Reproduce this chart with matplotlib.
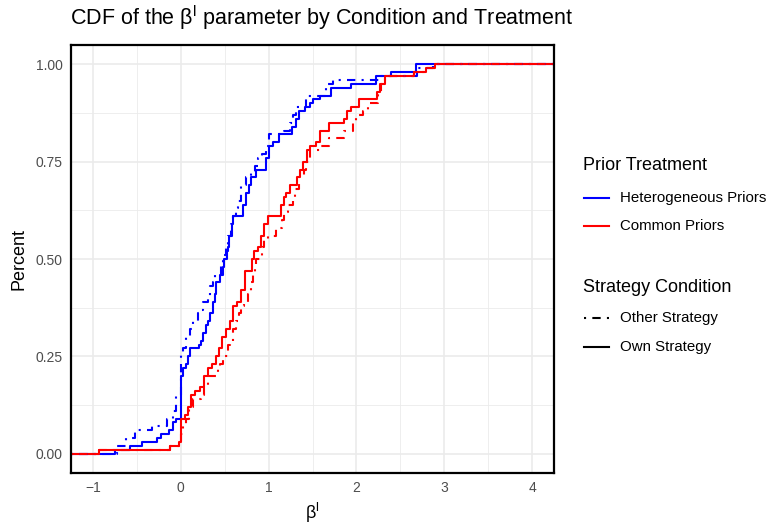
import numpy as np
import matplotlib
matplotlib.use('Agg')
import matplotlib.pyplot as plt
from matplotlib.lines import Line2D

plt.rcParams['font.family'] = ['Liberation Sans', 'DejaVu Sans']
plt.rcParams['mathtext.fontset'] = 'custom'
plt.rcParams['mathtext.rm'] = 'Liberation Sans'

# beta^l estimates (distinct values) and how many subjects sit at each value
het_own_beta = [-0.75, -0.58, -0.447, -0.276, -0.22, -0.136, -0.087, -0.05, 0.0, 0.027,
                0.064, 0.083, 0.10, 0.21, 0.235, 0.25, 0.29, 0.31, 0.33, 0.367,
                0.386, 0.405, 0.443, 0.48, 0.489, 0.526, 0.54, 0.55, 0.587, 0.60,
                0.71, 0.746, 0.776, 0.80, 0.852, 0.97, 1.0, 1.05, 1.12, 1.27,
                1.31, 1.35, 1.41, 1.47, 1.50, 1.58, 1.71, 1.94, 2.22, 2.39, 2.68]
het_own_count = [1, 1, 1, 1, 1, 1, 2, 1, 11, 2,
                 1, 2, 2, 1, 1, 2, 2, 1, 2, 3,
                 2, 3, 2, 2, 2, 2, 1, 3, 3, 2,
                 3, 3, 2, 2, 2, 3, 3, 1, 2, 2,
                 2, 2, 1, 1, 1, 1, 2, 1, 2, 1, 2]

het_other_beta = [-0.73, -0.62, -0.52, -0.33, -0.16, -0.09, -0.05, 0.0, 0.03, 0.064,
                  0.10, 0.14, 0.197, 0.216, 0.254, 0.31, 0.337, 0.367, 0.386, 0.462,
                  0.48, 0.519, 0.538, 0.576, 0.60, 0.625, 0.65, 0.69, 0.746, 0.80,
                  0.84, 0.879, 0.93, 0.973, 1.01, 1.18, 1.24, 1.276, 1.31, 1.43,
                  1.656, 1.73, 2.26, 2.69, 2.87]
het_other_count = [2, 2, 2, 1, 2, 2, 4, 11, 1, 3,
                   2, 2, 2, 1, 2, 1, 3, 1, 2, 3,
                   2, 2, 3, 3, 2, 2, 2, 4, 2, 1,
                   2, 2, 1, 2, 3, 1, 2, 2, 2, 3,
                   3, 1, 1, 2, 1]

com_own_beta = [-0.93, -0.125, -0.02, 0.0, 0.045, 0.083, 0.12, 0.16, 0.216, 0.26,
                0.31, 0.36, 0.40, 0.435, 0.47, 0.51, 0.557, 0.595, 0.64, 0.69,
                0.727, 0.814, 0.833, 0.88, 0.917, 0.943, 0.992, 1.136, 1.17, 1.20,
                1.24, 1.32, 1.36, 1.39, 1.435, 1.473, 1.54, 1.58, 1.69, 1.86,
                1.89, 1.94, 2.03, 2.24, 2.27, 2.32, 2.66, 2.79, 2.89]
com_own_count = [1, 1, 1, 6, 1, 2, 3, 1, 1, 3,
                 2, 1, 2, 2, 3, 2, 2, 4, 1, 3,
                 5, 3, 2, 1, 3, 3, 2, 3, 2, 1,
                 2, 2, 2, 2, 3, 1, 1, 3, 2, 1,
                 2, 1, 2, 2, 2, 2, 1, 1, 1]

com_other_beta = [-0.93, -0.125, 0.0, 0.02, 0.06, 0.09, 0.14, 0.235, 0.27, 0.31,
                  0.42, 0.45, 0.48, 0.50, 0.538, 0.557, 0.595, 0.633, 0.66, 0.69,
                  0.716, 0.765, 0.80, 0.82, 0.84, 0.86, 0.93, 0.943, 0.99, 1.09,
                  1.15, 1.18, 1.22, 1.276, 1.30, 1.35, 1.40, 1.43, 1.466, 1.58,
                  1.69, 1.86, 1.96, 2.0, 2.07, 2.13, 2.25, 2.28, 2.32, 2.66,
                  2.8, 2.89]
com_other_count = [1, 1, 3, 2, 2, 3, 2, 1, 2, 3,
                   2, 1, 1, 1, 3, 1, 3, 2, 2, 2,
                   1, 2, 3, 2, 2, 2, 3, 2, 1, 2,
                   2, 2, 2, 2, 2, 3, 2, 2, 3, 1,
                   2, 2, 2, 2, 1, 2, 3, 2, 2, 1,
                   1, 1]

x_ticks = [-1, 0, 1, 2, 3, 4]
y_ticks = [0, 0.25, 0.5, 0.75, 1.0]
y_tick_labels = ['0.00', '0.25', '0.50', '0.75', '1.00']

BLUE = '#0000FF'
RED = '#FF0000'
DOTDASH = (0, (1, 3, 4, 3))
XLIM = (-1.25, 4.25)


def plot_ecdf(ax, beta, count, color, ls):
    x = np.sort(np.repeat(beta, count))
    y = np.arange(1, len(x) + 1) / len(x)
    xs = np.concatenate([[XLIM[0]], x, [XLIM[1]]])
    ys = np.concatenate([[0], y, [1]])
    ax.step(xs, ys, where='post', color=color, linestyle=ls, lw=1.5)


fig = plt.figure(figsize=(7.67, 5.27), dpi=100)
ax = fig.add_axes([71 / 767, 1 - 473 / 527, (554 - 71) / 767, (473 - 45) / 527])

plot_ecdf(ax, het_own_beta, het_own_count, BLUE, '-')
plot_ecdf(ax, com_own_beta, com_own_count, RED, '-')
plot_ecdf(ax, het_other_beta, het_other_count, BLUE, DOTDASH)
plot_ecdf(ax, com_other_beta, com_other_count, RED, DOTDASH)

ax.set_xlim(*XLIM)
ax.set_ylim(-0.05, 1.05)
ax.set_xticks(x_ticks)
ax.set_xticklabels(['\u2212' + str(abs(t)) if t < 0 else str(t) for t in x_ticks])
ax.set_yticks(y_ticks)
ax.set_yticklabels(y_tick_labels)
ax.set_xticks(np.arange(-0.5, 4.5, 1.0), minor=True)
ax.set_yticks([0.125, 0.375, 0.625, 0.875], minor=True)
ax.grid(which='major', color='#EBEBEB', lw=1.2)
ax.grid(which='minor', color='#EBEBEB', lw=0.6)
ax.set_axisbelow(True)
ax.tick_params(which='both', length=0, labelsize=10, labelcolor='#4D4D4D', pad=6)
for s in ax.spines.values():
    s.set_linewidth(1.6)
    s.set_color('black')

ax.set_xlabel('β$^\\mathregular{l}$', fontsize=13, labelpad=4)
ax.set_ylabel('Percent', fontsize=13, labelpad=6)
fig.text(70 / 767, 1 - 18 / 527, 'CDF of the β$^\\mathregular{l}$ parameter by Condition and Treatment',
         fontsize=15.5, ha='left', va='center')

# legend, drawn by hand in figure pixels
def fx(px):
    return px / 767


def fy(py):
    return 1 - py / 527


fig.text(fx(583), fy(165), 'Prior Treatment', fontsize=13, va='center')
fig.text(fx(583), fy(287), 'Strategy Condition', fontsize=13, va='center')
entries = [(198, BLUE, '-', 'Heterogeneous Priors'),
           (226, RED, '-', 'Common Priors'),
           (318, 'black', DOTDASH, 'Other Strategy'),
           (347, 'black', '-', 'Own Strategy')]
for py, c, ls, lab in entries:
    fig.add_artist(Line2D([fx(584), fx(609)], [fy(py), fy(py)], color=c, linestyle=ls, lw=1.5))
    fig.text(fx(620), fy(py), lab, fontsize=10.8, va='center')

fig.savefig('out.png', dpi=100)
